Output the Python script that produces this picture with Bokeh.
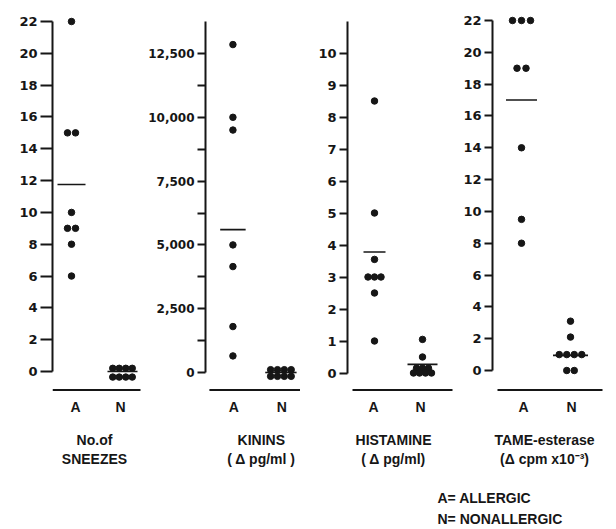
from collections import Counter
from bokeh.plotting import figure
from bokeh.layouts import row, column
from bokeh.models import FixedTicker, Range1d
from bokeh.embed import file_html
from bokeh.resources import INLINE
from bokeh.core.properties import value

# ---------------- data ----------------
sneezes_A = [22, 15, 15, 10, 9, 9, 8, 6]
sneezes_N = [0.2, 0.2, 0.2, 0.2, -0.35, -0.35, -0.35, -0.35]
kinins_A = [12850, 10000, 9500, 5000, 4150, 1800, 650]
kinins_N = [110, 110, 110, 110, -150, -150, -150, -150]
histamine_A = [8.5, 5.0, 3.55, 3.0, 3.0, 3.0, 2.5, 1.0]
histamine_N = [1.05, 0.5, 0.15, 0.15, 0.15, 0.0, 0.0, 0.0, 0.0]
tame_A = [22, 22, 22, 19, 19, 14, 9.5, 8]
tame_N = [3.1, 2.1, 1.0, 1.0, 1.0, 1.0, 0.0, 0.0]
mean_A = [11.75, 5600, 3.78, 17.0]
mean_N = [0.0, 0.0, 0.27, 0.95]

group_labels = ["A", "N"]
titles = [["No.of", "SNEEZES"], ["KININS", "( \u0394 pg/ml )"],
          ["HISTAMINE", "( \u0394 pg/ml)"], ["TAME-esterase", "(\u0394 cpm x10\u207b\u00b3)"]]
legend_lines = ["A= ALLERGIC", "N= NONALLERGIC"]

sneeze_ticks = [0, 2, 4, 6, 8, 10, 12, 14, 16, 18, 20, 22]
sneeze_tick_labels = ["0", "2", "4", "6", "8", "10", "12", "14", "16", "18", "20", "22"]
kinin_ticks = [0, 2500, 5000, 7500, 10000, 12500]
kinin_tick_labels = ["0", "2,500", "5,000", "7,500", "10,000", "12,500"]
kinin_minor_ticks = [1250, 3750, 6250, 8750, 11250]
hist_ticks = [0, 1, 2, 3, 4, 5, 6, 7, 8, 9, 10]
hist_tick_labels = ["0", "1", "2", "3", "4", "5", "6", "7", "8", "9", "10"]
tame_ticks = [0, 2, 4, 6, 8, 10, 12, 14, 16, 18, 20, 22]
tame_tick_labels = ["0", "2", "4", "6", "8", "10", "12", "14", "16", "18", "20", "22"]
axis_tops = [22, 13750, 11, 22]

# ---------------- layout / style ----------------
H = 478
INK = "#161616"
FONT = value("Liberation Sans")

panels = [
    dict(A=sneezes_A, N=sneezes_N, ticks=sneeze_ticks, labels=sneeze_tick_labels, minor=[],
         x0=0, w=145, axis=52, zero_px=371, ref=22, ref_px=21, tick=12, fs="13px",
         ax=71, nx=122, asp=8, nsp=6.5, ahw=14, nhw=15, base=(52, 140), lab=(75, 120), tc=94),
    dict(A=kinins_A, N=kinins_N, ticks=kinin_ticks, labels=kinin_tick_labels, minor=kinin_minor_ticks,
         x0=145, w=155, axis=203, zero_px=372, ref=12500, ref_px=53, tick=8, fs="12px",
         ax=231, nx=280, asp=8, nsp=7, ahw=13, nhw=16, base=(207, 302), lab=(232, 281), tc=260),
    dict(A=histamine_A, N=histamine_N, ticks=hist_ticks, labels=hist_tick_labels, minor=[],
         x0=300, w=160, axis=347, zero_px=372.5, ref=10, ref_px=52.5, tick=8, fs="13px",
         ax=374, nx=422, asp=6.5, nsp=6, ahw=11, nhw=15, base=(352, 452), lab=(373, 420), tc=393),
    dict(A=tame_A, N=tame_N, ticks=tame_ticks, labels=tame_tick_labels, minor=[],
         x0=460, w=156, axis=492, zero_px=370, ref=22, ref_px=20, tick=8, fs="13px",
         ax=521, nx=570, asp=9, nsp=7.5, ahw=15.5, nhw=17.5, base=(497, 602), lab=(523, 571), tc=544),
]


def spread(vals, center, spacing):
    counts = Counter(vals)
    seen = {}
    xs = []
    for v in vals:
        n = counts[v]
        i = seen.get(v, 0)
        seen[v] = i + 1
        xs.append(center + (i - (n - 1) / 2) * spacing)
    return xs


figs = []
for k, s in enumerate(panels):
    scale = (s["ref_px"] - s["zero_px"]) / (0 - s["ref"])  # px per unit
    to_val = lambda px, s=s, scale=scale: (s["zero_px"] - px) / scale
    p = figure(width=s["w"], height=H, output_backend="svg", toolbar_location=None,
               x_range=Range1d(s["axis"], s["x0"] + s["w"]),
               y_range=Range1d(to_val(H), to_val(0)),
               x_axis_location=None, y_axis_location="left",
               min_border_left=s["axis"] - s["x0"], min_border_right=0,
               min_border_top=0, min_border_bottom=0)
    p.outline_line_color = None
    p.grid.visible = False
    p.background_fill_color = "white"
    p.border_fill_color = "white"

    ax = p.yaxis[0]
    ax.ticker = FixedTicker(ticks=s["ticks"], minor_ticks=s["minor"])
    ax.major_label_overrides = {t: l for t, l in zip(s["ticks"], s["labels"])}
    ax.bounds = (0, axis_tops[k])
    ax.axis_line_color = INK
    ax.axis_line_width = 2
    ax.major_tick_line_color = INK
    ax.major_tick_line_width = 2
    ax.major_tick_out = s["tick"]
    ax.major_tick_in = 0
    ax.minor_tick_line_color = INK if s["minor"] else None
    ax.minor_tick_line_width = 2
    ax.minor_tick_out = s["tick"]
    ax.minor_tick_in = 0
    ax.major_label_standoff = 3
    ax.major_label_text_font = "DejaVu Sans"
    ax.major_label_text_font_style = "bold"
    ax.major_label_text_font_size = s["fs"]
    ax.major_label_text_color = INK

    # points
    p.scatter(spread(s["A"], s["ax"], s["asp"]), s["A"], size=6.5, color=INK)
    p.scatter(spread(s["N"], s["nx"], s["nsp"]), s["N"], size=6.5, color=INK)
    # mean lines
    p.segment(x0=[s["ax"] - s["ahw"], s["nx"] - s["nhw"]], x1=[s["ax"] + s["ahw"], s["nx"] + s["nhw"]],
              y0=[mean_A[k], mean_N[k]], y1=[mean_A[k], mean_N[k]], line_color=INK, line_width=1.6)
    # baseline
    yb = to_val(389.5)
    p.segment(x0=[s["base"][0]], x1=[s["base"][1]], y0=[yb], y1=[yb], line_color=INK, line_width=2)
    # group labels
    p.text(x=list(s["lab"]), y=[to_val(406)] * 2, text=group_labels, text_font=FONT,
           text_font_style="bold", text_font_size="14px", text_align="center",
           text_baseline="middle", text_color=INK)
    # title
    p.text(x=[s["tc"], s["tc"]], y=[to_val(439), to_val(458)], text=titles[k], text_font=FONT,
           text_font_style="bold", text_font_size="14px", text_align="center",
           text_baseline="middle", text_color=INK)
    figs.append(p)

leg = figure(width=616, height=529 - H, output_backend="svg", toolbar_location=None,
             x_range=Range1d(0, 616), y_range=Range1d(529, H),
             x_axis_location=None, y_axis_location=None,
             min_border_left=0, min_border_right=0, min_border_top=0, min_border_bottom=0)
leg.outline_line_color = None
leg.grid.visible = False
leg.text(x=[437, 437], y=[497, 518], text=legend_lines, text_font=FONT, text_font_style="bold",
         text_font_size="14px", text_align="left", text_baseline="middle", text_color=INK)

layout = column(row(*figs), leg)
open("out.html", "w").write(file_html(layout, INLINE))
